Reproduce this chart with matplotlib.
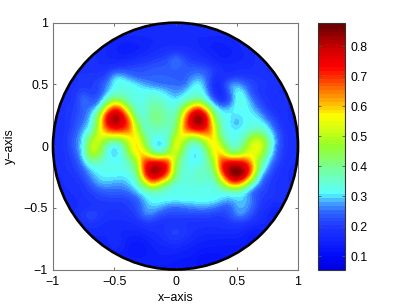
import matplotlib

matplotlib.use("Agg")
import matplotlib.pyplot as plt
import numpy as np
from matplotlib.colors import LinearSegmentedColormap, Normalize
from matplotlib.patches import Circle

plt.rcParams["font.family"] = ["Liberation Sans", "DejaVu Sans"]
plt.rcParams["font.size"] = 8.9

# field values in hundredths, rows from y=+1 down to y=-1, columns x=-1 to x=+1 (step 1/16)
field_pct = [
    [18, 18, 18, 18, 18, 18, 18, 18, 18, 18, 18, 18, 18, 18, 18, 18, 18, 18, 18, 18, 18, 18, 18, 18, 18, 18, 18, 18, 18, 18, 18, 18, 18],
    [18, 18, 18, 18, 18, 18, 18, 18, 18, 18, 18, 18, 18, 18, 18, 18, 18, 18, 18, 18, 18, 18, 18, 18, 18, 18, 18, 18, 18, 18, 18, 18, 18],
    [18, 18, 18, 18, 18, 18, 18, 18, 17, 17, 17, 17, 17, 17, 17, 17, 17, 17, 17, 17, 17, 17, 17, 17, 17, 17, 18, 18, 18, 18, 18, 18, 18],
    [18, 18, 18, 18, 18, 18, 18, 17, 16, 15, 15, 15, 16, 17, 18, 18, 18, 18, 18, 17, 16, 15, 15, 16, 17, 18, 18, 18, 18, 18, 18, 18, 18],
    [19, 19, 19, 19, 19, 19, 18, 17, 16, 15, 15, 16, 17, 18, 19, 20, 21, 20, 19, 18, 17, 16, 15, 15, 16, 17, 18, 19, 19, 19, 19, 19, 19],
    [19, 19, 19, 19, 19, 19, 18, 17, 17, 17, 18, 19, 20, 21, 22, 23, 29, 24, 21, 20, 19, 17, 16, 16, 17, 17, 18, 19, 19, 19, 19, 19, 19],
    [19, 19, 19, 19, 19, 19, 19, 19, 20, 21, 22, 23, 23, 24, 24, 24, 25, 24, 24, 24, 23, 21, 19, 18, 18, 18, 18, 19, 19, 19, 19, 19, 19],
    [19, 19, 19, 20, 20, 20, 20, 21, 31, 30, 26, 24, 24, 25, 25, 25, 24, 24, 26, 28, 26, 20, 18, 18, 20, 20, 20, 19, 19, 19, 19, 19, 18],
    [18, 18, 19, 19, 20, 21, 22, 27, 32, 34, 33, 31, 28, 26, 25, 25, 26, 24, 29, 33, 27, 17, 18, 28, 29, 25, 22, 21, 20, 19, 19, 18, 18],
    [18, 18, 19, 21, 22, 20, 22, 28, 33, 34, 34, 33, 33, 33, 32, 29, 27, 29, 33, 34, 30, 18, 16, 26, 33, 31, 22, 20, 19, 18, 18, 18, 18],
    [18, 19, 19, 20, 28, 23, 24, 35, 44, 40, 34, 33, 33, 37, 35, 33, 30, 33, 36, 38, 33, 24, 16, 21, 34, 33, 27, 21, 20, 19, 19, 18, 18],
    [18, 19, 20, 21, 26, 25, 30, 52, 72, 62, 42, 33, 34, 40, 39, 35, 33, 44, 58, 70, 50, 34, 27, 29, 33, 33, 30, 24, 20, 19, 19, 18, 18],
    [18, 19, 20, 22, 25, 29, 46, 76, 84, 80, 58, 35, 34, 42, 41, 37, 36, 56, 78, 86, 78, 44, 33, 32, 31, 32, 32, 30, 23, 20, 19, 18, 18],
    [18, 19, 20, 23, 26, 31, 52, 76, 86, 80, 70, 44, 34, 41, 41, 37, 38, 62, 80, 88, 80, 54, 34, 32, 27, 32, 33, 32, 29, 22, 19, 18, 18],
    [19, 19, 20, 24, 29, 34, 54, 68, 72, 72, 66, 52, 34, 36, 37, 34, 42, 64, 72, 76, 72, 60, 36, 32, 31, 33, 35, 38, 33, 26, 20, 19, 18],
    [19, 19, 21, 26, 31, 46, 56, 50, 50, 50, 58, 60, 42, 33, 33, 33, 54, 56, 44, 48, 58, 62, 40, 33, 33, 36, 50, 52, 40, 29, 21, 19, 18],
    [19, 19, 21, 26, 32, 55, 52, 36, 28, 36, 52, 63, 48, 31, 27, 34, 62, 46, 33, 33, 46, 62, 52, 36, 33, 44, 56, 58, 44, 28, 21, 19, 18],
    [19, 19, 20, 25, 32, 54, 48, 34, 28, 33, 48, 60, 60, 42, 36, 46, 56, 40, 31, 30, 38, 58, 62, 44, 42, 50, 56, 55, 38, 27, 20, 19, 18],
    [18, 19, 20, 22, 30, 40, 37, 33, 32, 33, 37, 50, 72, 74, 74, 72, 48, 36, 31, 31, 36, 48, 72, 74, 74, 72, 60, 44, 32, 24, 20, 19, 18],
    [18, 19, 20, 21, 25, 31, 33, 33, 33, 33, 35, 44, 76, 86, 84, 76, 44, 35, 33, 36, 37, 42, 74, 86, 88, 84, 70, 40, 28, 21, 19, 18, 18],
    [18, 18, 19, 20, 23, 28, 31, 32, 32, 31, 32, 38, 70, 82, 78, 66, 42, 34, 34, 37, 35, 37, 60, 82, 88, 82, 58, 30, 23, 20, 19, 18, 18],
    [18, 18, 19, 19, 20, 25, 29, 29, 28, 28, 30, 34, 48, 64, 52, 40, 33, 34, 34, 35, 34, 33, 44, 62, 68, 54, 36, 26, 21, 19, 19, 18, 18],
    [18, 18, 18, 19, 20, 21, 23, 25, 25, 25, 26, 30, 33, 35, 34, 33, 33, 33, 33, 33, 33, 33, 33, 33, 35, 31, 24, 22, 21, 20, 19, 19, 18],
    [18, 18, 18, 18, 19, 20, 21, 21, 21, 21, 22, 24, 30, 33, 33, 33, 33, 33, 33, 33, 33, 33, 31, 29, 30, 30, 27, 21, 20, 19, 19, 19, 18],
    [18, 18, 18, 18, 19, 19, 20, 20, 20, 20, 21, 23, 28, 30, 29, 26, 25, 26, 27, 28, 28, 27, 24, 23, 29, 29, 26, 20, 19, 16, 18, 18, 18],
    [18, 18, 18, 19, 21, 24, 21, 19, 19, 19, 20, 21, 28, 27, 23, 22, 22, 22, 22, 22, 22, 21, 21, 23, 28, 28, 22, 19, 17, 14, 17, 18, 18],
    [18, 18, 18, 18, 19, 20, 19, 18, 18, 18, 18, 19, 20, 20, 19, 19, 19, 19, 19, 19, 19, 19, 19, 20, 21, 20, 19, 18, 17, 16, 17, 18, 18],
    [17, 17, 17, 17, 17, 18, 18, 17, 17, 17, 17, 17, 18, 19, 19, 21, 22, 21, 19, 18, 18, 18, 18, 18, 18, 17, 15, 15, 16, 17, 17, 17, 17],
    [17, 17, 17, 17, 16, 16, 17, 17, 18, 17, 15, 15, 16, 17, 18, 20, 21, 20, 18, 17, 16, 16, 16, 16, 16, 15, 13, 14, 16, 17, 17, 17, 17],
    [16, 16, 16, 16, 16, 15, 15, 16, 19, 17, 14, 13, 14, 16, 17, 17, 18, 17, 16, 15, 15, 15, 14, 14, 14, 14, 15, 16, 16, 16, 16, 16, 16],
    [16, 16, 16, 16, 16, 15, 15, 15, 16, 15, 14, 14, 14, 15, 16, 16, 16, 15, 15, 14, 13, 13, 13, 14, 15, 15, 15, 16, 16, 16, 16, 16, 16],
    [15, 15, 15, 15, 15, 15, 15, 15, 15, 15, 15, 15, 15, 15, 15, 15, 14, 14, 14, 12, 11, 12, 13, 14, 15, 15, 15, 15, 15, 15, 15, 15, 15],
    [14, 14, 14, 14, 14, 14, 14, 14, 14, 14, 14, 14, 14, 14, 14, 14, 14, 14, 14, 14, 14, 14, 14, 14, 14, 14, 14, 14, 14, 14, 14, 14, 14],
]

axis_ticks = [-1, -0.5, 0, 0.5, 1]
axis_labels = ["\u22121", "\u22120.5", "0", "0.5", "1"]
cbar_ticks = [0.1, 0.2, 0.3, 0.4, 0.5, 0.6, 0.7, 0.8]
vmin, vmax = 0.055, 0.878

# colour stops (value, colour)
stop_values = [0.055, 0.10, 0.20, 0.25, 0.285, 0.30, 0.315, 0.40, 0.475, 0.575, 0.64, 0.74, 0.80, 0.878]
stop_colors = ["#0000dc", "#000afa", "#1e37ff", "#2d64ff", "#46aaff", "#50dcff", "#5affff", "#78ff96",
               "#96ff28", "#ffff00", "#ff9600", "#ff0000", "#d20000", "#6e0000"]

stops = [(v - vmin) / (vmax - vmin) for v in stop_values]
cmap = LinearSegmentedColormap.from_list("field", list(zip(stops, stop_colors)), N=64)
norm = Normalize(vmin, vmax)

field = np.array(field_pct) / 100.0
half = 1.0 / (field.shape[1] - 1)

fig = plt.figure(figsize=(4.07, 3.07), dpi=100)
ax = fig.add_axes([53 / 407, 1 - 269.5 / 307, 245 / 407, 246.8 / 307])
im = ax.imshow(field, extent=(-1 - half, 1 + half, -1 - half, 1 + half), cmap=cmap, norm=norm,
               interpolation="bicubic", interpolation_stage="data", aspect="auto")
im.set_clip_path(Circle((0, 0), 1, transform=ax.transData))
ax.add_patch(Circle((0, 0), 1, fill=False, edgecolor="black", linewidth=1.9, clip_on=False, zorder=3))
ax.set_xlim(-1, 1)
ax.set_ylim(-1, 1)
ax.set_xticks(axis_ticks, axis_labels)
ax.set_yticks(axis_ticks, axis_labels)
ax.tick_params(direction="in", top=True, right=True, length=2.2, width=0.6, color="#555555")
ax.tick_params(axis="x", pad=5)
ax.tick_params(axis="y", pad=3.5)
ax.set_xlabel("x\u2212axis", va="center")
ax.set_ylabel("y\u2212axis", va="center")
ax.xaxis.set_label_coords(0.5, -0.115)
ax.yaxis.set_label_coords(-0.1755, 0.5)
for spine in ax.spines.values():
    spine.set_linewidth(0.8)
    spine.set_color("#777777")

cax = fig.add_axes([318.3 / 407, 1 - 269.5 / 307, 27 / 407, 246.8 / 307])
cax.set_facecolor("#0000dc")
cb = fig.colorbar(im, cax=cax, ticks=cbar_ticks)
cb.solids.set_edgecolor("face")
cb.ax.set_yticklabels([f"{t:.1f}" for t in cbar_ticks])
cb.ax.tick_params(direction="in", left=True, right=True, length=2.2, width=0.6, color="#555555", pad=3.5)
cb.outline.set_linewidth(0.8)
cb.outline.set_edgecolor("#333333")

fig.savefig("out.png", dpi=100)
